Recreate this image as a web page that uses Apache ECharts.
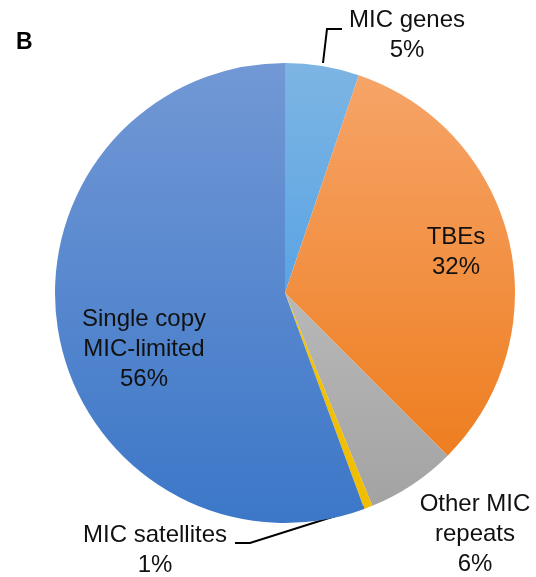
<!DOCTYPE html>
<html>
<head>
<meta charset="utf-8">
<script src="https://cdn.jsdelivr.net/npm/echarts@6/dist/echarts.min.js"></script>
<style>
html,body{margin:0;padding:0;background:#fff;}
#chart{width:536px;height:577px;}
</style>
</head>
<body>
<div id="chart"></div>
<script>
// ---- data ----
const categories = ['MIC genes', 'TBEs', 'Other MIC repeats', 'MIC satellites', 'Single copy MIC-limited'];
const labelNames = ['MIC genes', 'TBEs', 'Other MIC\nrepeats', 'MIC satellites', 'Single copy\nMIC-limited'];
const values = [5.2, 32.3, 6.3, 0.6, 55.6];
const panelLetter = 'B';

// ---- styles ----
const gradients = [
  ['#7db5e3', '#5aa4e4'],
  ['#f6a468', '#ee7e20'],
  ['#b8b8b8', '#a3a3a3'],
  ['#f4c400', '#f0bd00'],
  ['#7298d5', '#3c77c8']
];
const CX = 285, CY = 293, R = 230;
// label centre offsets from pie centre (px)
const labelOffsets = [[122, -258], [171, -41], [190, 241], [-130, 257], [-141, 56]];
const labelLines = [
  [[38, -230], [42, -264], [57, -264]],
  null, null,
  [[82, 213], [-35, 250], [-50, 250]],
  null
];

const chart = echarts.init(document.getElementById('chart'), null, {renderer: 'canvas'});
const fontFamily = '"Liberation Sans", Arial, Helvetica, sans-serif';

const seriesData = categories.map((c, i) => ({
  name: c,
  value: values[i],
  itemStyle: {
    color: new echarts.graphic.LinearGradient(0, 0, 0, 1, [
      {offset: 0, color: gradients[i][0]},
      {offset: 1, color: gradients[i][1]}
    ])
  },
  labelLine: {show: !!labelLines[i]}
}));

chart.setOption({
  backgroundColor: '#ffffff',
  animation: false,
  title: {
    text: panelLetter,
    left: 11,
    top: 26,
    textStyle: {fontSize: 23, fontWeight: 'bold', color: '#000', fontFamily: fontFamily}
  },
  series: [{
    type: 'pie',
    center: [CX, CY],
    radius: [0, R],
    startAngle: 90,
    clockwise: true,
    avoidLabelOverlap: false,
    percentPrecision: 0,
    data: seriesData,
    itemStyle: {borderWidth: 0},
    label: {
      show: true,
      position: 'outside',
      formatter: p => labelNames[p.dataIndex] + '\n' + p.percent + '%',
      fontSize: 24,
      lineHeight: 30,
      color: '#111',
      fontFamily: fontFamily,
      align: 'center'
    },
    labelLine: {
      show: true,
      lineStyle: {color: '#000', width: 2}
    },
    labelLayout: function (params) {
      const i = params.dataIndex;
      const o = labelOffsets[i];
      const res = {
        x: CX + o[0],
        y: CY + o[1],
        align: 'center',
        verticalAlign: 'middle'
      };
      if (labelLines[i]) {
        res.labelLinePoints = labelLines[i].map(pt => [CX + pt[0], CY + pt[1]]);
      }
      return res;
    }
  }]
});
</script>
</body>
</html>
